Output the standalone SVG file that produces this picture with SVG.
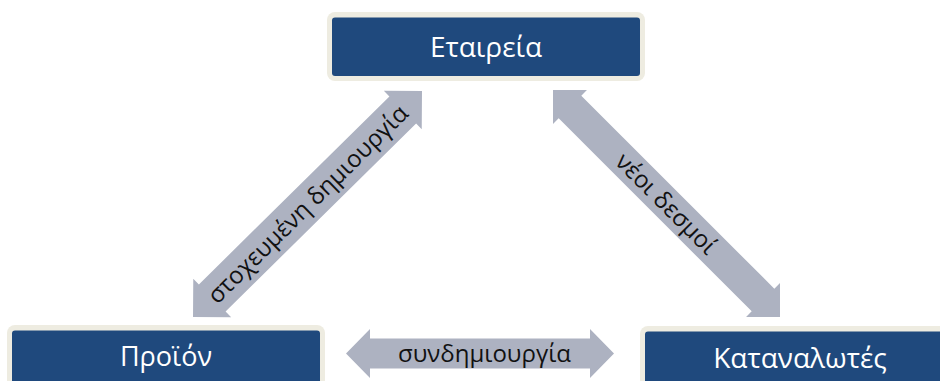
<svg xmlns="http://www.w3.org/2000/svg" width="940" height="381" viewBox="0 0 940 381">
<style>
.frame{fill:#eeece1}
.box{fill:#1f497d}
.lbl{font-family:"Open Sans","Noto Sans","DejaVu Sans",sans-serif;font-size:28px;fill:#ffffff;text-anchor:middle}
.arr{fill:#adb2c1}
.al{font-family:"Open Sans","Noto Sans","DejaVu Sans",sans-serif;font-size:24px;fill:#111111;text-anchor:middle}
</style>
<rect width="940" height="381" fill="#ffffff"/>
<g id="connectors">
  <g id="arrow-left">
    <polygon class="arr" transform="translate(307.5,204) rotate(-44.6)" points="-160.8,0 -133.8,-27 -133.8,-19 133.8,-19 133.8,-27 160.8,0 133.8,27 133.8,19 -133.8,19 -133.8,27"/>
    <text class="al" transform="translate(307.5,204) rotate(-44.6)" x="0" y="8.5">στοχευμένη δημιουργία</text>
  </g>
  <g id="arrow-right">
    <polygon class="arr" transform="translate(666.5,203.5) rotate(45)" points="-160.5,0 -136.5,-24 -136.5,-16 136.5,-16 136.5,-24 160.5,0 136.5,24 136.5,16 -136.5,16 -136.5,24"/>
    <text class="al" transform="translate(666.5,203.5) rotate(45)" x="0" y="8.5">νέοι δεσμοί</text>
  </g>
  <g id="arrow-bottom">
    <polygon class="arr" points="346,353.5 370,329 370,338.5 590,338.5 590,329 614,353.5 590,378 590,368.5 370,368.5 370,378"/>
    <text class="al" x="484.5" y="361.5">συνδημιουργία</text>
  </g>
</g>
<g id="node-company">
  <rect class="frame" x="327" y="12" width="318" height="69" rx="8"/>
  <rect class="box" x="332" y="17.5" width="308" height="58.5" rx="3"/>
  <text class="lbl" x="486" y="57">Εταιρεία</text>
</g>
<g id="node-product">
  <rect class="frame" x="7" y="325" width="318" height="69" rx="8"/>
  <rect class="box" x="12" y="330.5" width="308" height="58.5" rx="3"/>
  <text class="lbl" x="166" y="366" style="font-size:27px">Προϊόν</text>
</g>
<g id="node-consumers">
  <rect class="frame" x="640" y="326" width="318" height="69" rx="8"/>
  <rect class="box" x="645" y="331.5" width="308" height="58.5" rx="3"/>
  <text class="lbl" x="800" y="368">Καταναλωτές</text>
</g>
</svg>
